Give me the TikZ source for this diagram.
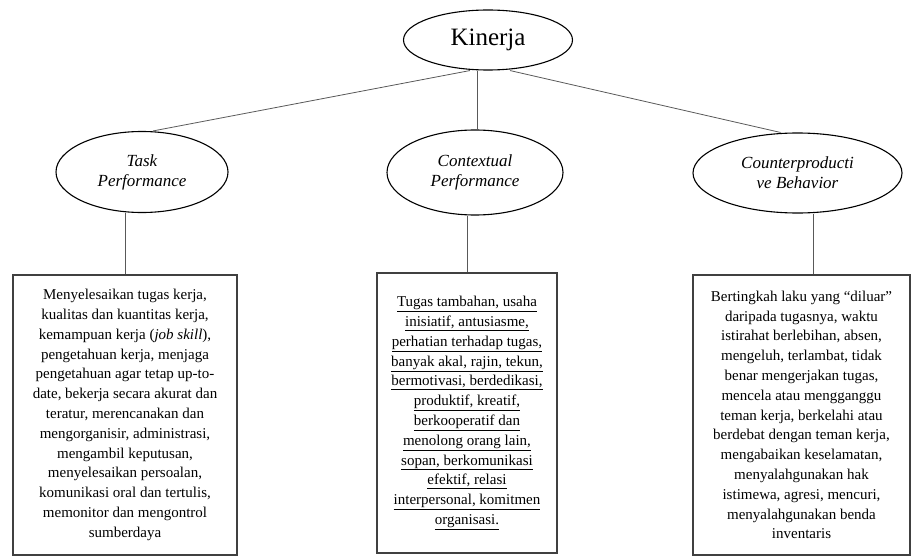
\documentclass[tikz,border=0pt]{standalone}
\usepackage{fontspec}
\setmainfont{Liberation Serif}
\usetikzlibrary{shapes.geometric}
\begin{document}
\begin{tikzpicture}[x=1pt,y=1pt,
  oval/.style={ellipse,draw=black,line width=1.1pt,fill=white,inner sep=0pt,align=center},
  ovtext/.style={font=\fontsize{17}{20}\selectfont\itshape},
  infobox/.style={rectangle,draw=black!75,line width=1.6pt,fill=white,inner sep=0pt,align=center,minimum height=280pt,font=\fontsize{15}{19.8}\selectfont},
  link/.style={draw=black!65,line width=0.8pt}]
\useasboundingbox (0,0) rectangle (912,558);

\node[oval,minimum width=169pt,minimum height=60pt,font=\fontsize{25}{28}\selectfont] (kin) at (488,518) {Kinerja};

\node[oval,ovtext,minimum width=172pt,minimum height=81pt] (task) at (142,386) {Task\\Performance};
\node[oval,ovtext,minimum width=176pt,minimum height=85pt] (ctx) at (475,385.5) {Contextual\\Performance};
\node[oval,ovtext,minimum width=209pt,minimum height=80pt] (cpb) at (797.5,385) {Counterproducti\\ve Behavior};

\node[infobox,minimum width=224pt] (b1) at (125,143) {Menyelesaikan tugas kerja,\\
kualitas dan kuantitas kerja,\\
kemampuan kerja (\textit{job skill}),\\
pengetahuan kerja, menjaga\\
pengetahuan agar tetap up-to-\\
date, bekerja secara akurat dan\\
teratur, merencanakan dan\\
mengorganisir, administrasi,\\
mengambil keputusan,\\
menyelesaikan persoalan,\\
komunikasi oral dan tertulis,\\
memonitor dan mengontrol\\
sumberdaya};

\node[infobox,minimum width=180pt] (b2) at (467,145) {\underline{Tugas tambahan, usaha}\\
\underline{inisiatif, antusiasme,}\\
\underline{perhatian terhadap tugas,}\\
\underline{banyak akal, rajin, tekun,}\\
\underline{bermotivasi, berdedikasi,}\\
\underline{produktif, kreatif,}\\
\underline{berkooperatif dan}\\
\underline{menolong orang lain,}\\
\underline{sopan, berkomunikasi}\\
\underline{efektif, relasi}\\
\underline{interpersonal, komitmen}\\
\underline{organisasi.}};

\node[infobox,minimum width=217pt] (b3) at (801.5,143) {Bertingkah laku yang ``diluar''\\
daripada tugasnya, waktu\\
istirahat berlebihan, absen,\\
mengeluh, terlambat, tidak\\
benar mengerjakan tugas,\\
mencela atau mengganggu\\
teman kerja, berkelahi atau\\
berdebat dengan teman kerja,\\
mengabaikan keselamatan,\\
menyalahgunakan hak\\
istimewa, agresi, mencuri,\\
menyalahgunakan benda\\
inventaris};

\draw[link] ([xshift=-18pt]kin.south) -- ([xshift=11pt]task.north);
\draw[link] ([xshift=-11pt]kin.south) -- ([xshift=-11pt]kin.south |- ctx.north);
\draw[link] ([xshift=22pt]kin.south) -- ([xshift=-17pt]cpb.north);

\draw[link] (b1.north) -- (b1.north |- task.south);
\draw[link] (b2.north) -- (b2.north |- ctx.south);
\draw[link] ([xshift=11.5pt]b3.north) -- ([xshift=11.5pt]b3.north |- cpb.south);
\end{tikzpicture}
\end{document}
